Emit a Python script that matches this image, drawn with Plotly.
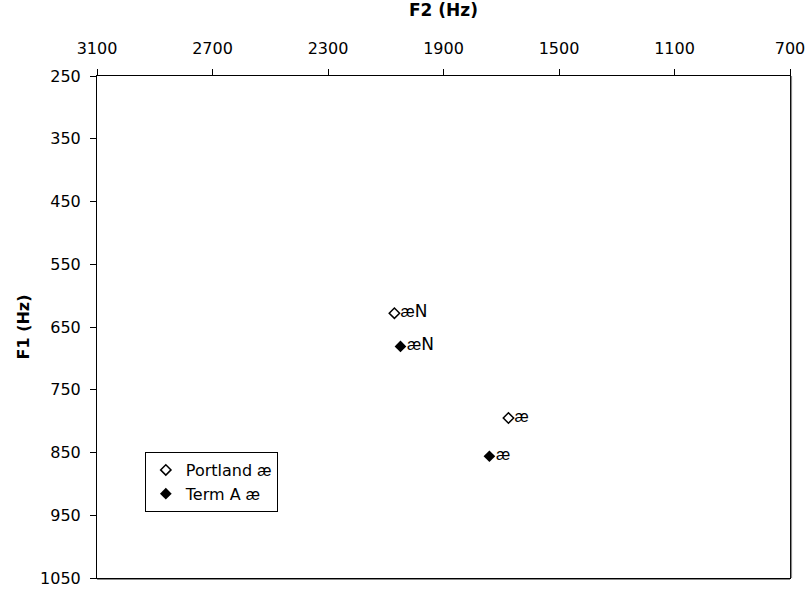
import plotly.graph_objects as go

# Formant measurements (Hz)
series_names = ["Portland <span style='font-family:Liberation Sans'>æ</span>",
                "Term A <span style='font-family:Liberation Sans'>æ</span>"]
vowel_labels = ["æ<span style='font-family:DejaVu Sans;font-size:17px'>N</span>", "æ"]
portland_f2 = [2070, 1675]
portland_f1 = [628, 795]
terma_f2 = [2049, 1741]
terma_f1 = [681, 856]

x_ticks = [3100, 2700, 2300, 1900, 1500, 1100, 700]
y_ticks = [250, 350, 450, 550, 650, 750, 850, 950, 1050]

fig = go.Figure()
fig.add_trace(go.Scatter(
    x=portland_f2, y=portland_f1, mode="markers+text", name=series_names[0],
    text=vowel_labels, textposition="middle right",
    textfont=dict(family="Liberation Sans", size=16, color="black"),
    marker=dict(symbol="diamond-open", size=8, color="black", line=dict(width=1.5, color="black")),
))
fig.add_trace(go.Scatter(
    x=terma_f2, y=terma_f1, mode="markers+text", name=series_names[1],
    text=vowel_labels, textposition="middle right",
    textfont=dict(family="Liberation Sans", size=16, color="black"),
    marker=dict(symbol="diamond", size=9, color="black"),
))

# soft drop shadow along the right and bottom frame edges
fig.add_shape(type="line", xref="paper", yref="paper", xsizemode="pixel", xanchor=1,
              x0=1.5, x1=1.5, y0=0, y1=1, line=dict(color="#8a8a8a", width=1.2))
fig.add_shape(type="line", xref="paper", yref="paper", ysizemode="pixel", yanchor=0,
              y0=-1.5, y1=-1.5, x0=0, x1=1, line=dict(color="#8a8a8a", width=1.2))

fig.update_layout(
    width=810, height=591,
    margin=dict(l=97, r=20, t=76, b=13),
    paper_bgcolor="white", plot_bgcolor="white",
    font=dict(family="DejaVu Sans", size=16, color="black"),
    showlegend=True,
    legend=dict(
        x=0.069, y=0.251, xanchor="left", yanchor="top",
        bordercolor="black", borderwidth=1, bgcolor="white",
        font=dict(family="DejaVu Sans", size=16, color="black"),
        itemwidth=30, tracegroupgap=0,
    ),
    xaxis=dict(
        range=[3100, 700], side="top", tickvals=x_ticks, automargin=False,
        showgrid=False, zeroline=False, showline=True, mirror=True,
        linecolor="black", linewidth=1,
        ticks="outside", ticklen=6, tickcolor="black", ticklabelstandoff=9,
        tickfont=dict(size=16),
        title=dict(text="<b>F2 (Hz)</b>", font=dict(size=17), standoff=17),
    ),
    yaxis=dict(
        range=[1050, 250], tickvals=y_ticks, automargin=False,
        showgrid=False, zeroline=False, showline=True, mirror=True,
        linecolor="black", linewidth=1,
        ticks="outside", ticklen=6, tickcolor="black", ticklabelstandoff=6,
        tickfont=dict(size=16),
        title=dict(text="<b>F1 (Hz)</b>", font=dict(size=16), standoff=6),
    ),
)

fig.write_html("out.html")
